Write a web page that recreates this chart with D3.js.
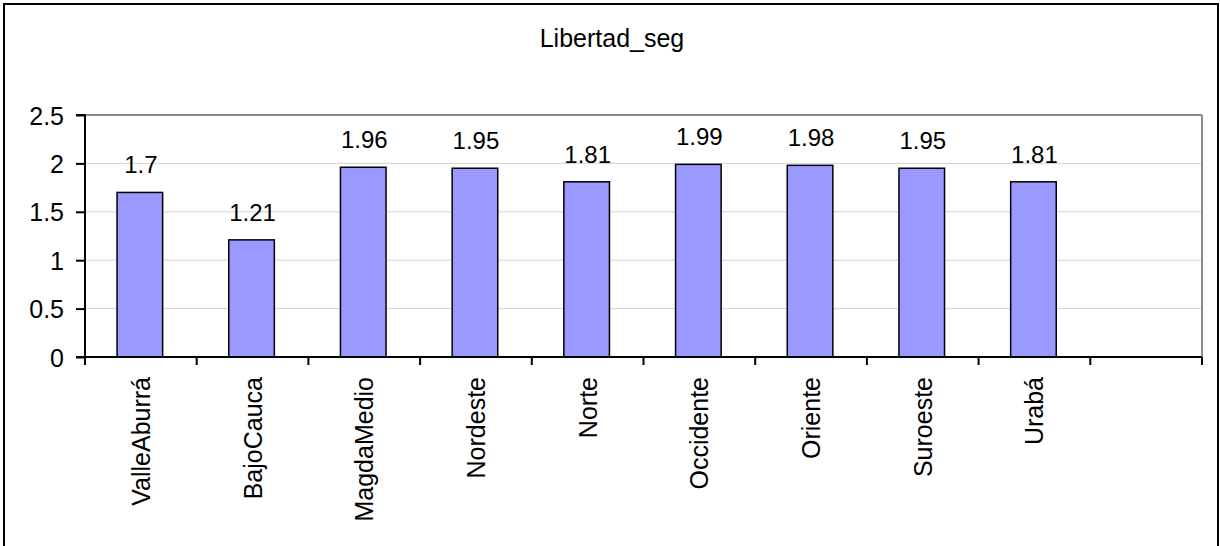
<!DOCTYPE html>
<html><head><meta charset="utf-8">
<script src="https://cdn.jsdelivr.net/npm/d3@7"></script>
<style>
html,body{margin:0;padding:0;background:#fff;}
text{font-family:"Liberation Sans",Arial,sans-serif;fill:#000;}
</style></head>
<body>
<svg id="chart" width="1220" height="546"></svg>
<script>
const title = "Libertad_seg";
const categories = ["ValleAburrá","BajoCauca","MagdaMedio","Nordeste","Norte","Occidente","Oriente","Suroeste","Urabá"];
const values = [1.7, 1.21, 1.96, 1.95, 1.81, 1.99, 1.98, 1.95, 1.81];
const labels = ["1.7","1.21","1.96","1.95","1.81","1.99","1.98","1.95","1.81"];
const yTicks = [0, 0.5, 1, 1.5, 2, 2.5];
const yTickLabels = ["0","0.5","1","1.5","2","2.5"];

const svg = d3.select("#chart");
const L = 85, R = 1202, T = 115, B = 357;

// outer frame
svg.append("rect").attr("x",4).attr("y",4).attr("width",1214).attr("height",560)
  .attr("fill","none").attr("stroke","#000").attr("stroke-width",2);

const slots = categories.concat([""]);
const x = d3.scaleBand().domain(d3.range(slots.length)).range([L,R]).padding(0);
const y = d3.scaleLinear().domain([0,2.5]).range([B,T]);

// gridlines
svg.append("g").selectAll("line").data(yTicks.slice(1,-1)).join("line")
  .attr("x1",L).attr("x2",R).attr("y1",d=>y(d)).attr("y2",d=>y(d))
  .attr("stroke","#d4d4d4").attr("stroke-width",1);

// plot top / right border
svg.append("line").attr("x1",L).attr("x2",R).attr("y1",y(2.5)).attr("y2",y(2.5))
  .attr("stroke","#8c8c8c").attr("stroke-width",2);
svg.append("line").attr("x1",R).attr("x2",R).attr("y1",T).attr("y2",B)
  .attr("stroke","#8c8c8c").attr("stroke-width",2);

// bars
const bw = x.step()/2.45;
svg.append("g").selectAll("rect").data(values).join("rect")
  .attr("x",(d,i)=>x(i)+x.bandwidth()/2-bw/2-1)
  .attr("width",bw)
  .attr("y",d=>y(d))
  .attr("height",d=>y(0)-y(d))
  .attr("fill","#9999ff").attr("stroke","#000").attr("stroke-width",1.5);

// data labels
svg.append("g").selectAll("text").data(values).join("text")
  .attr("x",(d,i)=>x(i)+x.bandwidth()/2)
  .attr("y",d=>y(d)-19)
  .attr("text-anchor","middle").attr("font-size",24)
  .text((d,i)=>labels[i]);

// y axis
const yAxis = d3.axisLeft(y).tickValues(yTicks).tickSize(9).tickPadding(12)
  .tickFormat((d,i)=>yTickLabels[i]);
const gy = svg.append("g").attr("transform",`translate(${L},0)`).call(yAxis);
gy.select(".domain").attr("stroke","#000").attr("stroke-width",2).attr("d",`M-9,${T}H0V${B}H-9`);
gy.selectAll(".tick line").attr("stroke","#000").attr("stroke-width",2);
gy.selectAll(".tick text").attr("font-size",25).attr("font-family","Liberation Sans, Arial, sans-serif").attr("dy","0.36em");

// x axis line and ticks at boundaries
const bounds = d3.range(slots.length+1).map(i=> i<slots.length ? x(i) : R);
svg.append("line").attr("x1",L).attr("x2",R).attr("y1",B).attr("y2",B)
  .attr("stroke","#000").attr("stroke-width",2);
svg.append("g").selectAll("line").data(bounds).join("line")
  .attr("x1",d=>d).attr("x2",d=>d).attr("y1",B).attr("y2",B+8)
  .attr("stroke","#000").attr("stroke-width",2);

// category labels
svg.append("g").selectAll("text").data(categories).join("text")
  .attr("transform",(d,i)=>`translate(${x(i)+x.bandwidth()/2},377) rotate(-90)`)
  .attr("text-anchor","end").attr("dy","0.36em").attr("font-size",25)
  .text(d=>d);

// title
svg.append("text").attr("x",612).attr("y",47).attr("text-anchor","middle")
  .attr("font-size",25).text(title);
</script>
</body></html>
